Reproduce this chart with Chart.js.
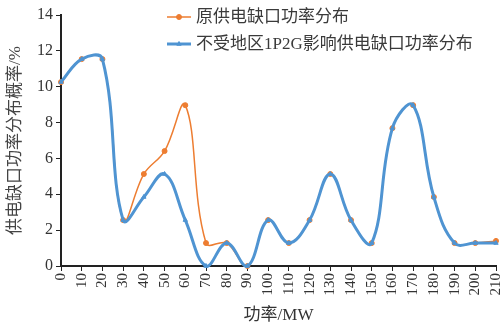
<!DOCTYPE html>
<html>
<head>
<meta charset="utf-8">
<script src="https://cdn.jsdelivr.net/npm/chart.js@4/dist/chart.umd.min.js"></script>
<style>
  html, body { margin: 0; padding: 0; background: #fff; }
  #wrap { width: 504px; height: 324px; }
</style>
</head>
<body>
<div id="wrap"><canvas id="c" width="504" height="324"></canvas></div>
<script>
// Power-shortage levels (MW)
const powerLevels = [0, 10, 20, 30, 40, 50, 60, 70, 80, 90, 100, 110, 120, 130, 140, 150, 160, 170, 180, 190, 200, 210];

// Probability (%) of each shortage level
const originalDist = [10.26, 11.54, 11.54, 2.56, 5.13, 6.41, 8.97, 1.28, 1.28, 0, 2.56, 1.28, 2.56, 5.13, 2.56, 1.28, 7.69, 8.97, 3.85, 1.28, 1.28, 1.4];
const unaffectedDist = [10.26, 11.54, 11.54, 2.56, 3.85, 5.13, 2.56, 0, 1.28, 0, 2.56, 1.28, 2.56, 5.13, 2.56, 1.28, 7.69, 8.97, 3.85, 1.28, 1.28, 1.28];

const seriesNames = ['原供电缺口功率分布', '不受地区1P2G影响供电缺口功率分布'];
const yTicks = [0, 2, 4, 6, 8, 10, 12, 14];

const ORANGE = '#ED7D31';
const BLUE = '#4F94D2';
const SERIF = "'Liberation Serif', 'Noto Sans CJK SC', serif";

// Legend drawn inside the plot area: original series first, then the unaffected one
const insideLegend = {
  id: 'insideLegend',
  afterDraw(chart) {
    const ctx = chart.ctx;
    const byName = name => chart.data.datasets.find(d => d.label === name);
    const rows = [
      { y: 17, ds: byName(seriesNames[0]) },
      { y: 44, ds: byName(seriesNames[1]) }
    ];
    ctx.save();
    rows.forEach(r => {
      const ds = r.ds;
      ctx.strokeStyle = ds.borderColor;
      ctx.fillStyle = ds.backgroundColor;
      ctx.lineWidth = ds.borderWidth;
      ctx.beginPath();
      ctx.moveTo(167, r.y);
      ctx.lineTo(191, r.y);
      ctx.stroke();
      ctx.lineWidth = 1;
      Chart.helpers.drawPoint(ctx, {
        pointStyle: ds.pointStyle,
        radius: ds.pointRadius,
        borderWidth: 1,
        rotation: 0
      }, 179, r.y);
      ctx.fillStyle = '#3a3a3a';
      ctx.font = "17px " + SERIF;
      ctx.textBaseline = 'middle';
      ctx.textAlign = 'left';
      ctx.fillText(ds.label, 196, r.y + 1);
    });
    ctx.restore();
  }
};

const chart = new Chart(document.getElementById('c'), {
  type: 'line',
  data: {
    labels: powerLevels.map(String),
    datasets: [
      {
        label: seriesNames[1],
        data: unaffectedDist,
        borderColor: BLUE,
        backgroundColor: BLUE,
        borderWidth: 3,
        pointStyle: 'triangle',
        pointRadius: 2.5,
        pointBorderWidth: 1,
        tension: 0.4,
        clip: false,
        order: 0
      },
      {
        label: seriesNames[0],
        data: originalDist,
        borderColor: ORANGE,
        backgroundColor: ORANGE,
        borderWidth: 1.5,
        pointStyle: 'circle',
        pointRadius: 2.5,
        pointBorderWidth: 1,
        tension: 0.4,
        clip: false,
        order: 1
      }
    ]
  },
  options: {
    responsive: false,
    animation: false,
    devicePixelRatio: 1,
    layout: { padding: { top: 15, right: 8, bottom: 0, left: 0 } },
    elements: { line: { capBezierPoints: false } },
    plugins: {
      legend: { display: false },
      tooltip: { enabled: false }
    },
    scales: {
      x: {
        type: 'category',
        offset: false,
        grid: {
          display: true,
          drawOnChartArea: false,
          drawTicks: true,
          tickLength: 5,
          color: '#222',
          offset: false
        },
        border: { display: true, color: '#222', width: 2 },
        ticks: {
          autoSkip: false,
          minRotation: 90,
          maxRotation: 90,
          padding: 2,
          color: '#333',
          font: { family: SERIF, size: 15 }
        },
        title: {
          display: true,
          text: '功率/MW',
          color: '#333',
          font: { family: SERIF, size: 17, lineHeight: 1 },
          padding: { top: 0, bottom: 0 }
        },
        afterFit(scale) {
          scale.height = 58;
          scale.paddingLeft = 0;
          scale.paddingRight = 0;
        }
      },
      y: {
        min: 0,
        max: 14,
        afterBuildTicks(scale) { scale.ticks = yTicks.map(v => ({ value: v })); },
        grid: {
          display: true,
          drawOnChartArea: false,
          drawTicks: true,
          tickLength: 5,
          color: '#222'
        },
        border: { display: true, color: '#222', width: 2 },
        ticks: {
          padding: 3,
          color: '#333',
          font: { family: SERIF, size: 16 }
        },
        title: {
          display: true,
          text: '供电缺口功率分布概率/%',
          color: '#444',
          font: { family: SERIF, size: 17 },
          padding: { top: 5, bottom: 0 }
        },
        afterFit(scale) { scale.width = 61; }
      }
    }
  },
  plugins: [insideLegend]
});
</script>
</body>
</html>
